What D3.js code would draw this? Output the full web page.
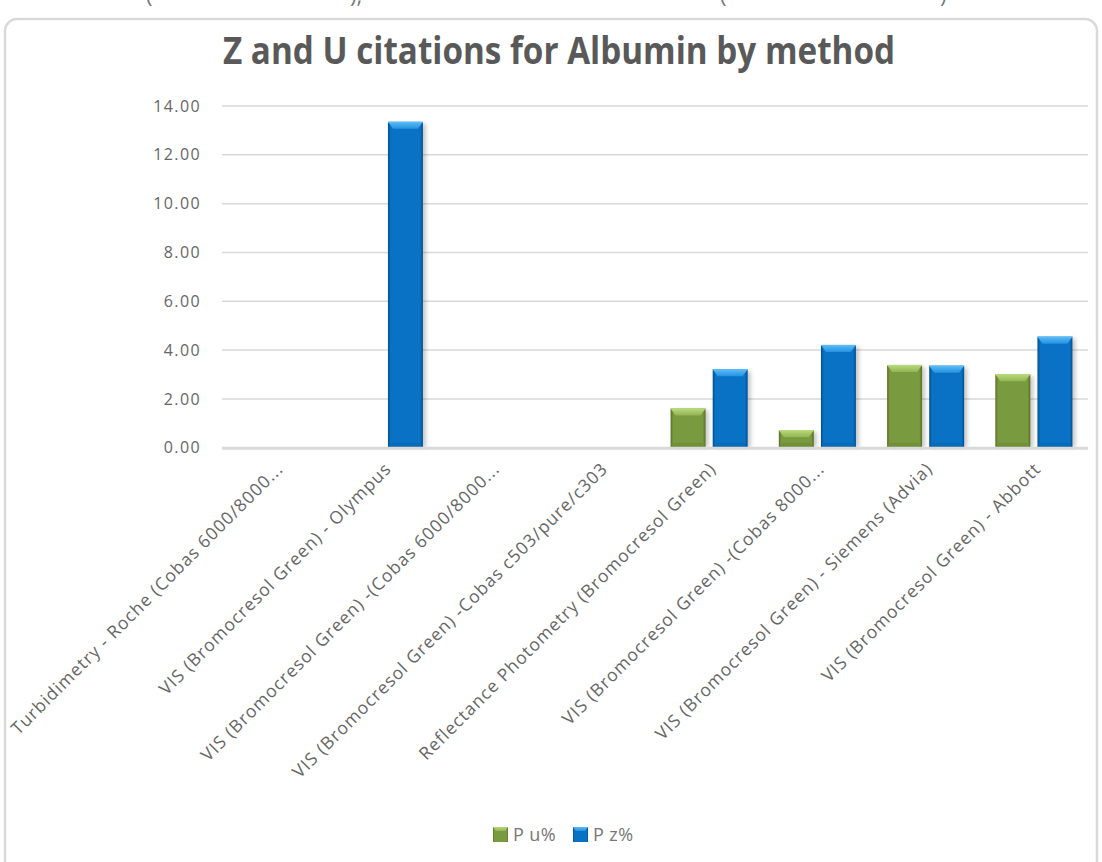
<!DOCTYPE html>
<html>
<head>
<meta charset="utf-8">
<script src="https://cdn.jsdelivr.net/npm/d3@7"></script>
<style>
  body { margin: 0; background: #fff; }
  svg { display: block; }
</style>
</head>
<body>
<svg id="chart" width="1102" height="862"></svg>
<script>
// Albumin citation rates per method
const categories = [
  "Turbidimetry - Roche (Cobas 6000/8000...",
  "VIS (Bromocresol Green) - Olympus",
  "VIS (Bromocresol Green) -(Cobas 6000/8000...",
  "VIS (Bromocresol Green) -Cobas c503/pure/c303",
  "Reflectance Photometry (Bromocresol Green)",
  "VIS (Bromocresol Green) -(Cobas 8000...",
  "VIS (Bromocresol Green) - Siemens (Advia)",
  "VIS (Bromocresol Green) - Abbott"
];
const seriesNames = ["P u%", "P z%"];
const uValues = [0, 0, 0, 0, 1.61, 0.72, 3.39, 3.01];
const zValues = [0, 13.35, 0, 0, 3.21, 4.21, 3.36, 4.55];
const yTicks = [0, 2, 4, 6, 8, 10, 12, 14];
const titleText = "Z and U citations for Albumin by method";

const svg = d3.select("#chart");
const plot = { left: 222, right: 1088, top: 106, bottom: 447.7 };

const textColor = "#595959";
const gridColor = "#d9d9d9";

// Bar palettes: edge, body, bevel light, bevel mid, bottom shade
const palettes = [
  { edge: "#566f27", body: "#7a9a40", light: "#b9da7c", mid: "#93b552", low: "#6c8a35" },
  { edge: "#004f8e", body: "#0a72c4", light: "#5bbcf7", mid: "#2592e0", low: "#0866b0" }
];

const defs = svg.append("defs");
palettes.forEach((p, i) => {
  const g = defs.append("linearGradient").attr("id", "body" + i)
    .attr("x1", 0).attr("x2", 1).attr("y1", 0).attr("y2", 0);
  g.append("stop").attr("offset", "0%").attr("stop-color", p.edge);
  g.append("stop").attr("offset", "8%").attr("stop-color", p.body);
  g.append("stop").attr("offset", "92%").attr("stop-color", p.body);
  g.append("stop").attr("offset", "100%").attr("stop-color", p.edge);
  const t = defs.append("linearGradient").attr("id", "bevel" + i)
    .attr("x1", 0).attr("x2", 0).attr("y1", 0).attr("y2", 1);
  t.append("stop").attr("offset", "0%").attr("stop-color", p.light);
  t.append("stop").attr("offset", "100%").attr("stop-color", p.mid);
});
const shadow = defs.append("filter").attr("id", "shadow")
  .attr("x", "-30%").attr("y", "-10%").attr("width", "160%").attr("height", "120%");
shadow.append("feGaussianBlur").attr("stdDeviation", 2);

// Frame of the chart area
svg.append("rect")
  .attr("x", 5).attr("y", 19).attr("width", 1092).attr("height", 860)
  .attr("rx", 12).attr("fill", "#fff")
  .attr("stroke", gridColor).attr("stroke-width", 2.5);

// Fragments of the surrounding text line at the top edge
const topFragments = [{ x: 146, t: "(" }, { x: 350, t: ")," }, { x: 720, t: "(" }, { x: 940, t: ")" }];
svg.selectAll("text.frag").data(topFragments).join("text")
  .attr("class", "frag")
  .attr("x", d => d.x).attr("y", 3)
  .attr("font-family", "Open Sans, sans-serif").attr("font-size", 22)
  .attr("fill", "#777").text(d => d.t);

// Title
svg.append("text")
  .attr("x", 223).attr("y", 64)
  .attr("font-family", "Open Sans, sans-serif")
  .attr("font-weight", "bold").attr("font-size", 38)
  .attr("textLength", 672).attr("lengthAdjust", "spacingAndGlyphs")
  .attr("fill", textColor)
  .text(titleText);

// Scales
const x0 = d3.scaleBand().domain(categories).range([plot.left, plot.right]).padding(0);
const groupW = x0.bandwidth() * 0.712;
const x1 = d3.scaleBand().domain(seriesNames).range([0, groupW]).paddingInner(0.17);
const y = d3.scaleLinear().domain([0, 14]).range([plot.bottom, plot.top]);

// Gridlines
svg.append("g").selectAll("line").data(yTicks.filter(v => v > 0)).join("line")
  .attr("x1", plot.left).attr("x2", plot.right)
  .attr("y1", d => y(d)).attr("y2", d => y(d))
  .attr("stroke", gridColor).attr("stroke-width", 1.5);

// Y axis labels
const yAxis = d3.axisLeft(y).tickValues(yTicks).tickFormat(d3.format(".2f")).tickSize(0).tickPadding(0);
const yG = svg.append("g").attr("transform", `translate(${201},0)`).call(yAxis);
yG.select(".domain").remove();
yG.selectAll("text")
  .attr("font-family", "Open Sans, sans-serif").attr("font-size", 16)
  .attr("letter-spacing", "1.4px")
  .attr("fill", "#666");

// Bars
const series = [uValues, zValues];
const bars = [];
categories.forEach((c, ci) => {
  series.forEach((vals, si) => {
    if (vals[ci] > 0) bars.push({ c, si, v: vals[ci] });
  });
});
const offset = (x0.bandwidth() - groupW) / 2;
const barG = svg.append("g");
const bar = barG.selectAll("g.bar").data(bars).join("g").attr("class", "bar")
  .attr("transform", d => `translate(${x0(d.c) + offset + x1(seriesNames[d.si])},0)`);
const bw = x1.bandwidth();

bar.append("rect")
  .attr("x", 3).attr("y", d => y(d.v) + 2)
  .attr("width", bw).attr("height", d => plot.bottom - y(d.v) - 2)
  .attr("fill", "#000").attr("opacity", 0.22).attr("filter", "url(#shadow)");
bar.append("rect")
  .attr("x", 0).attr("y", d => y(d.v))
  .attr("width", bw).attr("height", d => plot.bottom - y(d.v))
  .attr("fill", d => `url(#body${d.si})`);
// bottom bevel
bar.append("path")
  .attr("d", d => {
    const b = plot.bottom, h = Math.min(5, (plot.bottom - y(d.v)) / 3);
    return `M0,${b}L${bw},${b}L${bw - 4},${b - h}L4,${b - h}Z`;
  })
  .attr("fill", d => palettes[d.si].low).attr("opacity", 0.7);
// top bevel
bar.append("path")
  .attr("d", d => {
    const t = y(d.v), h = Math.min(7, (plot.bottom - y(d.v)) / 2);
    return `M0,${t}L${bw},${t}L${bw - 5},${t + h}L5,${t + h}Z`;
  })
  .attr("fill", d => `url(#bevel${d.si})`);
bar.append("line")
  .attr("x1", 0).attr("x2", bw)
  .attr("y1", d => y(d.v) + 0.5).attr("y2", d => y(d.v) + 0.5)
  .attr("stroke", d => palettes[d.si].light).attr("stroke-width", 1);

// Category axis baseline
svg.append("line")
  .attr("x1", plot.left).attr("x2", plot.right)
  .attr("y1", plot.bottom + 0.5).attr("y2", plot.bottom + 0.5)
  .attr("stroke", gridColor).attr("stroke-width", 3);

// Category labels, rotated
svg.append("g").selectAll("text").data(categories).join("text")
  .attr("transform", d => `translate(${x0(d) + x0.bandwidth() / 2 + 8},${470}) rotate(-45)`)
  .attr("text-anchor", "end")
  .attr("font-family", "Open Sans, sans-serif").attr("font-size", 17.5)
  .attr("letter-spacing", "1px")
  .attr("fill", "#666")
  .text(d => d);

// Legend
const legendItems = [
  { name: seriesNames[0], x: 493, si: 0 },
  { name: seriesNames[1], x: 573, si: 1 }
];
const lg = svg.append("g").selectAll("g").data(legendItems).join("g")
  .attr("transform", d => `translate(${d.x},827)`);
lg.append("rect").attr("width", 15).attr("height", 15).attr("fill", d => `url(#body${d.si})`);
lg.append("path").attr("d", "M0,0L15,0L12,4L3,4Z").attr("fill", d => `url(#bevel${d.si})`);
lg.append("text").attr("x", 20).attr("y", 14)
  .attr("font-family", "Open Sans, sans-serif").attr("font-size", 18)
  .attr("letter-spacing", "0.4px")
  .attr("fill", "#777")
  .text(d => d.name);
</script>
</body>
</html>
